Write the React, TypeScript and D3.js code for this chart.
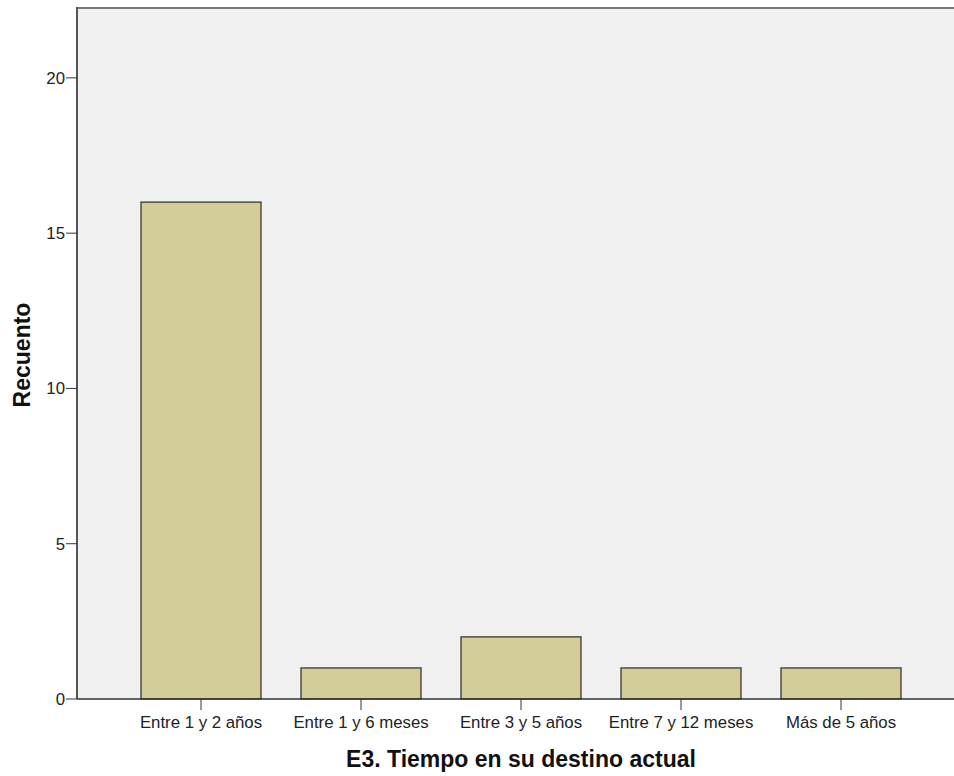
import React from "react";
import * as d3 from "d3";

const categories = ["Entre 1 y 2 años", "Entre 1 y 6 meses", "Entre 3 y 5 años", "Entre 7 y 12 meses", "Más de 5 años"];
const counts = [16, 1, 2, 1, 1];
const yTicks = [0, 5, 10, 15, 20];
const xTitle = "E3. Tiempo en su destino actual";
const yTitle = "Recuento";

const W = 954;
const H = 776;
const left = 77;
const right = 965;
const top = 8;
const bottom = 699;

export default function App() {
  const x = d3.scaleBand<string>().domain(categories).range([left, right]).paddingInner(0.25).paddingOuter(0.4);
  const y = d3.scaleLinear().domain([0, 22.25]).range([bottom, top]);
  const font = "Arial, 'Liberation Sans', sans-serif";
  return (
    <svg width={W} height={H} style={{ position: "absolute", left: 0, top: 0, background: "#fff" }} fontFamily={font}>
      <rect x={left} y={top} width={right - left} height={bottom - top} fill="#f0f0f0" />
      {categories.map((c, i) => (
        <rect key={c} x={x(c)} y={y(counts[i])} width={x.bandwidth()} height={bottom - y(counts[i])}
          fill="#d3ce97" stroke="#2b2b2b" strokeWidth={1.2} />
      ))}
      <line x1={left} x2={right} y1={top} y2={top} stroke="#777" strokeWidth={2} />
      <line x1={left} x2={left} y1={top - 1} y2={bottom} stroke="#555" strokeWidth={2} />
      <line x1={left} x2={right} y1={bottom} y2={bottom} stroke="#333" strokeWidth={1.5} />
      {yTicks.map((t) => (
        <g key={t}>
          <line x1={left - 11} x2={left} y1={y(t)} y2={y(t)} stroke="#333" strokeWidth={1} />
          <text x={left - 12} y={y(t)} dy="0.35em" textAnchor="end" fontSize={16.8} fill="#222">{t}</text>
        </g>
      ))}
      {categories.map((c) => {
        const cx = (x(c) ?? 0) + x.bandwidth() / 2;
        return (
          <g key={c}>
            <line x1={cx} x2={cx} y1={bottom} y2={bottom + 11} stroke="#333" strokeWidth={1} />
            <text x={cx} y={728} textAnchor="middle" fontSize={16.8} fill="#222">{c}</text>
          </g>
        );
      })}
      <text x={(left + right) / 2} y={767} textAnchor="middle" fontSize={23} fontWeight="bold" fill="#111">{xTitle}</text>
      <text transform={`translate(30, 355) rotate(-90)`} textAnchor="middle" fontSize={23} fontWeight="bold" fill="#111">{yTitle}</text>
    </svg>
  );
}
